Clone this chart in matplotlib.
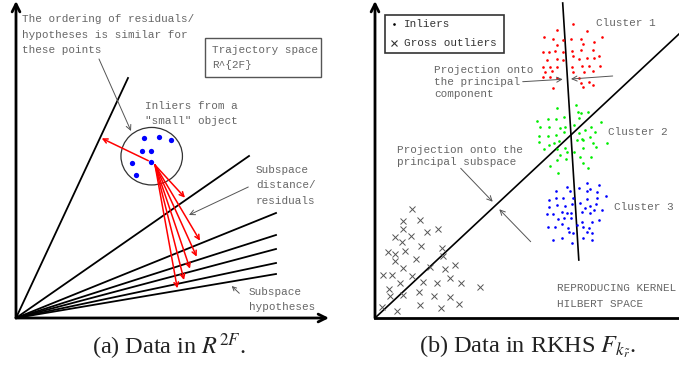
import matplotlib
matplotlib.use("Agg")
import matplotlib.pyplot as plt
from matplotlib.patches import Ellipse, Rectangle

plt.rcParams['mathtext.fontset'] = 'stix'

# ---- left panel: subspace hypotheses (end points of lines from origin) ----
origin_a = (16, 318)
hyp_x = [128, 249, 276, 276, 276, 276, 276]
hyp_y = [78, 156, 213, 235, 249, 263, 274]

# inliers of the small object
inl_x = [144.3, 159.3, 170.7, 141.7, 150.7, 132.3, 151.3, 136.0]
inl_y = [138.3, 137.3, 140.0, 150.7, 151.3, 163.3, 161.7, 175.0]

# residual arrows (end points)
res_start = (155, 165)
res_x = [185, 200, 196.7, 190, 184, 177.3]
res_y = [197.7, 240.7, 256.7, 268.7, 280, 288.3]

# ---- right panel: clusters in RKHS ----
origin_b = (375, 318)
red_x = [572.7, 556.7, 587.3, 544.0, 553.3, 563.0, 571.0, 581.0, 602.0, 594.0, 583.0, 557.0,
         542.7, 549.0, 555.0, 563.0, 572.0, 580.7, 592.7, 599.3, 573.3, 546.7, 556.7, 563.3,
         579.0, 586.7, 594.0, 542.7, 550.0, 557.3, 571.7, 581.7, 589.3, 600.0, 545.0, 552.3,
         573.3, 584.0, 592.7, 543.3, 550.0, 557.3, 579.3, 580.7, 589.3, 552.7, 583.3, 593.0]
red_y = [24.3, 30.0, 30.7, 37.3, 39.0, 40.0, 39.0, 39.0, 37.0, 42.0, 44.0, 45.0,
         52.0, 52.0, 51.0, 52.0, 51.0, 50.0, 50.0, 55.7, 55.7, 60.0, 59.3, 60.0,
         59.3, 58.3, 58.3, 66.7, 67.3, 67.3, 66.7, 65.7, 65.7, 66.0, 72.3, 71.0,
         71.7, 71.7, 70.7, 77.3, 77.3, 78.3, 78.3, 83.3, 82.3, 87.7, 86.7, 85.0]

green_x = [557.3, 575.7, 537.3, 547.7, 555.7, 564.3, 577.7, 581.0, 588.3, 579.0, 600.7,
           540.0, 549.0, 560.0, 565.0, 574.3, 585.0, 590.7, 595.3, 539.3, 547.7, 555.7,
           564.3, 579.0, 582.3, 590.0, 539.3, 549.0, 554.3, 559.3, 577.3, 583.3, 593.3,
           606.7, 544.3, 557.3, 565.0, 574.3, 582.7, 595.7, 560.0, 566.7, 580.0, 591.0,
           556.7, 566.0, 583.3, 550.0, 588.3, 557.7]
green_y = [107.7, 105.0, 121.0, 119.3, 119.0, 117.3, 112.3, 112.7, 111.7, 118.3, 122.3,
           126.7, 126.7, 128.3, 127.3, 125.0, 130.0, 127.3, 132.3, 136.0, 136.0, 135.0,
           131.7, 132.7, 139.3, 136.7, 142.3, 145.0, 142.7, 140.7, 140.0, 140.0, 143.3,
           143.3, 149.0, 149.3, 148.3, 152.3, 148.3, 146.7, 155.0, 152.3, 156.7, 156.7,
           160.0, 159.0, 163.3, 166.0, 167.7, 173.3]

blue_x = [586.7, 599.3, 566.7, 579.3, 590.0, 556.0, 570.0, 586.7, 596.7, 605.7, 549.3,
          556.0, 563.3, 573.3, 587.3, 596.7, 580.0, 590.0, 596.0, 549.0, 556.7, 565.0,
          571.7, 585.0, 594.3, 601.7, 561.7, 566.7, 570.7, 581.7, 590.0, 547.3, 552.7,
          558.3, 564.0, 571.0, 582.3, 591.7, 599.3, 548.3, 555.0, 562.0, 568.3, 576.7,
          583.3, 589.3, 569.0, 573.3, 586.7, 591.7, 552.7, 561.7, 582.7, 591.7, 571.7]
blue_y = [183.3, 185.0, 187.3, 188.3, 189.0, 191.0, 191.0, 191.0, 191.7, 195.7, 200.0,
          197.7, 197.7, 198.3, 199.0, 198.3, 203.3, 205.7, 204.3, 206.7, 205.0, 205.7,
          204.3, 207.7, 210.0, 210.0, 211.7, 213.3, 213.3, 212.3, 213.3, 214.3, 214.3,
          219.0, 218.3, 217.7, 221.7, 221.7, 220.0, 226.7, 227.3, 224.3, 228.3, 225.0,
          227.3, 227.7, 231.7, 232.7, 231.7, 233.3, 240.0, 237.7, 237.7, 240.3, 242.7]

out_x = [411.7, 403.3, 420.0, 403.3, 427.3, 438.3, 395.0, 411.0, 401.7, 421.0, 441.7,
         388.3, 395.0, 405.0, 416.0, 395.0, 430.0, 403.3, 445.0, 455.0, 383.3, 391.7,
         411.7, 450.0, 400.0, 423.3, 437.3, 460.7, 480.0, 389.3, 390.0, 403.3, 419.0,
         434.3, 450.0, 420.0, 440.7, 459.3, 381.7, 396.7, 443.0]
out_y = [209.3, 220.7, 220.0, 229.0, 232.3, 229.0, 236.7, 236.0, 241.7, 245.7, 247.7,
         251.7, 254.3, 251.0, 259.0, 261.0, 266.7, 268.3, 269.3, 265.0, 275.0, 275.0,
         276.0, 278.3, 282.7, 282.3, 283.3, 283.3, 286.7, 289.3, 296.0, 295.0, 292.3,
         295.7, 296.7, 305.0, 307.7, 304.0, 306.7, 311.0, 256.0]

TXT = '#666666'
MONO = 'Liberation Mono'
FS = 7.9

fig = plt.figure(figsize=(6.79, 3.65), dpi=100)
ax = fig.add_axes([0, 0, 1, 1])
ax.set_xlim(0, 679)
ax.set_ylim(365, 0)
ax.axis('off')


def arrow(p0, p1, color='k', lw=1.0, ms=10):
    ax.annotate('', xy=p1, xytext=p0,
                arrowprops=dict(arrowstyle='->', color=color, lw=lw,
                                shrinkA=0, shrinkB=0, mutation_scale=ms))


def label(x, y, lines, dy, color=TXT):
    for i, s in enumerate(lines):
        ax.text(x, y + i * dy, s, family=MONO, fontsize=FS, color=color,
                ha='left', va='center')


# ---------------- panel (a) ----------------
arrow(origin_a, (16, 1), lw=2, ms=14)
arrow(origin_a, (329, 318), lw=2, ms=14)
for hx, hy in zip(hyp_x, hyp_y):
    ax.plot([origin_a[0], hx], [origin_a[1], hy], color='k', lw=1.3)

ax.add_patch(Ellipse((151.7, 156.2), 61.5, 57.5, fill=False, ec='#333333', lw=0.9))
ax.plot(inl_x, inl_y, 'o', color='#0000ff', ms=3.8, mec='none')

arrow((148.3, 160.7), (101.7, 138.3), color='red', lw=1.1, ms=8)
for rx, ry in zip(res_x, res_y):
    arrow(res_start, (rx, ry), color='red', lw=1.1, ms=8)

label(21.7, 19.3, ['The ordering of residuals/', 'hypotheses is similar for',
                   'these points'], 15.3)
arrow((99, 59), (131, 131), color='#555555', lw=0.7, ms=9)

ax.add_patch(Rectangle((205, 38.3), 115.7, 38.4, fill=False, ec='#555555', lw=1.0))
label(212, 50, ['Trajectory space', 'R^{2F}'], 15)

label(145.3, 106, ['Inliers from a', '"small" object'], 14.7)

label(256, 170, ['Subspace', 'distance/', 'residuals'], 15.3)
arrow((248.3, 187), (189, 215), color='#555555', lw=0.7, ms=9)

label(248.7, 292.3, ['Subspace', 'hypotheses'], 15)
arrow((239.3, 293.3), (231.7, 286), color='#555555', lw=0.7, ms=7)

ax.text(169, 347, r'(a) Data in $R^{2F}$.', family='Liberation Serif', fontsize=17.5,
        color='#222222', ha='center', va='center')

# ---------------- panel (b) ----------------
arrow(origin_b, (375, 1), lw=2, ms=14)
ax.plot([origin_b[0], 679], [origin_b[1], origin_b[1]], color='k', lw=2)

ax.plot([origin_b[0], 679], [origin_b[1], 34], color='k', lw=1.2)
ax.plot([562.7, 578.8], [3, 260], color='k', lw=1.2)

ax.plot(red_x, red_y, 'o', color='#ff0000', ms=1.9, mec='none')
ax.plot(green_x, green_y, 'o', color='#00ee00', ms=1.9, mec='none')
ax.plot(blue_x, blue_y, 'o', color='#0000ff', ms=1.9, mec='none')
ax.plot(out_x, out_y, 'x', color='#555555', ms=4.5, mew=0.7)

# legend box
ax.add_patch(Rectangle((385, 15), 119.3, 38.3, fill=False, ec='#333333', lw=1.2))
ax.plot([394.3], [24.3], 'o', color='k', ms=1.9, mec='none')
ax.plot([394.3], [42.7], 'x', color='#333333', ms=4.5, mew=0.8)
ax.text(404.3, 24.3, 'Inliers', family=MONO, fontsize=FS, color='#333333', va='center')
ax.text(404.3, 42.7, 'Gross outliers', family=MONO, fontsize=FS, color='#333333', va='center')

label(596, 23.3, ['Cluster 1'], 12)
label(608.3, 131.7, ['Cluster 2'], 12)
label(614, 206.7, ['Cluster 3'], 12)

label(434, 69.7, ['Projection onto', 'the principal', 'component'], 12)
arrow((522.7, 81.7), (562.7, 79.3), color='#555555', lw=0.7, ms=9)
arrow((612.7, 76), (571, 79), color='#555555', lw=0.7, ms=9)

label(397.3, 149.7, ['Projection onto the', 'principal subspace'], 12)
arrow((460.7, 168.3), (492.7, 201.7), color='#555555', lw=0.7, ms=9)
arrow((530.7, 241.7), (499.3, 209.3), color='#555555', lw=0.7, ms=9)

label(556.7, 288.3, ['REPRODUCING KERNEL', 'HILBERT SPACE'], 15.7)

ax.text(528, 347, r'(b) Data in RKHS $F_{k_{\tilde{r}}}$.', family='Liberation Serif',
        fontsize=17.5, color='#222222', ha='center', va='center')

fig.savefig('out.png', dpi=100)
